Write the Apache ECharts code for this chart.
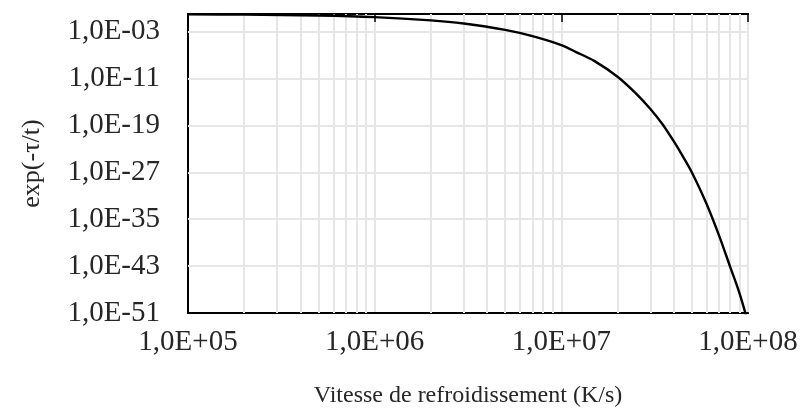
<!DOCTYPE html>
<html>
<head>
<meta charset="utf-8">
<script src="https://cdn.jsdelivr.net/npm/echarts@6/dist/echarts.min.js"></script>
<style>
  html, body { margin: 0; padding: 0; background: #fff; }
  #chart { width: 804px; height: 418px; }
</style>
</head>
<body>
<div id="chart"></div>
<script>
// Cooling rate (K/s) and the matching value of exp(-tau/t)
const coolingRate = [1e5, 2e5, 5e5, 1e6, 2e6, 3e6, 5e6, 7e6, 1e7, 1.2e7, 1.5e7, 2e7, 2.5e7, 3e7, 3.5e7, 4e7, 4.5e7, 5e7, 6e7, 7e7, 8e7, 9e7, 1e8];
const expValue = [0.88, 0.78, 0.54, 0.29, 0.083, 0.024, 2.0e-3, 1.7e-4, 5.0e-6, 3.2e-7, 1.0e-8, 2.0e-11, 3.2e-14, 6.3e-17, 1.3e-19, 2.0e-22, 4.0e-25, 1.0e-27, 4.0e-33, 1.6e-38, 1.0e-43, 2.5e-48, 2.5e-53];

// Axis ranges and tick values
const xRange = [1e5, 1e8];
const yRange = [1e-51, 1];
const yTicks = [1e-51, 1e-43, 1e-35, 1e-27, 1e-19, 1e-11, 1e-3];

// Minor vertical grid lines of the logarithmic x axis (2..9 per decade)
const minorGridX = [2e5, 3e5, 4e5, 5e5, 6e5, 7e5, 8e5, 9e5,
                    2e6, 3e6, 4e6, 5e6, 6e6, 7e6, 8e6, 9e6,
                    2e7, 3e7, 4e7, 5e7, 6e7, 7e7, 8e7, 9e7];

const FONT = '"Liberation Serif", "DejaVu Serif", serif';
const TXT = '#262626';
const GRID = '#e6e6e6';

function sci(v) {
  const e = Math.round(Math.log10(v));
  const a = Math.abs(e);
  return '1,0E' + (e < 0 ? '-' : '+') + (a < 10 ? '0' + a : a);
}

// Grid lines as segments spanning the plot area
const gridLines = minorGridX.map(v => [{ coord: [v, yRange[0]] }, { coord: [v, yRange[1]] }])
  .concat(yTicks.slice(1).map(v => [{ coord: [xRange[0], v] }, { coord: [xRange[1], v] }]));

const chart = echarts.init(document.getElementById('chart'));
chart.setOption({
  animation: false,
  backgroundColor: '#fff',
  grid: { left: 188, right: 56, top: 14, bottom: 105, show: true, borderColor: '#000', borderWidth: 2, backgroundColor: 'transparent' },
  xAxis: [{
    type: 'log', logBase: 10, min: xRange[0], max: xRange[1], position: 'bottom',
    name: 'Vitesse de refroidissement (K/s)', nameLocation: 'middle', nameGap: 71,
    nameTextStyle: { fontFamily: FONT, fontSize: 24, color: TXT },
    axisLine: { show: true, lineStyle: { color: '#000', width: 2 } },
    axisTick: { show: false },
    axisLabel: { fontFamily: FONT, fontSize: 29, color: TXT, margin: 15, formatter: sci },
    splitLine: { show: true, lineStyle: { color: GRID, width: 2 } },
    minorTick: { show: false }
  }, {
    type: 'log', logBase: 10, min: xRange[0], max: xRange[1], position: 'top',
    axisLine: { show: true, lineStyle: { color: '#000', width: 2 } },
    axisTick: { show: true, inside: true, length: 8, lineStyle: { color: '#000', width: 1.5 } },
    axisLabel: { show: false },
    splitLine: { show: false }
  }],
  yAxis: [{
    type: 'log', logBase: 10, min: yRange[0], max: yRange[1],
    name: 'exp(-τ/t)', nameLocation: 'middle', nameGap: 143,
    nameTextStyle: { fontFamily: FONT, fontSize: 26, color: TXT },
    axisLine: { show: true, lineStyle: { color: '#000', width: 2 } },
    axisTick: { show: true, inside: true, length: 9, customValues: yTicks, lineStyle: { color: '#000', width: 2 } },
    axisLabel: { fontFamily: FONT, fontSize: 29, color: TXT, margin: 28, customValues: yTicks, formatter: sci },
    splitLine: { show: false }
  }],
  series: [{
    type: 'line', xAxisIndex: 0, yAxisIndex: 0, data: [], z: 1,
    markLine: {
      silent: true, symbol: 'none', label: { show: false },
      lineStyle: { color: GRID, width: 2, type: 'solid' },
      data: gridLines
    }
  }, {
    type: 'line', xAxisIndex: 0, yAxisIndex: 0, z: 5,
    data: coolingRate.map((x, i) => [x, expValue[i]]),
    smooth: 0.3, showSymbol: false, clip: true,
    lineStyle: { color: '#000', width: 2.4 }
  }]
});
</script>
</body>
</html>
